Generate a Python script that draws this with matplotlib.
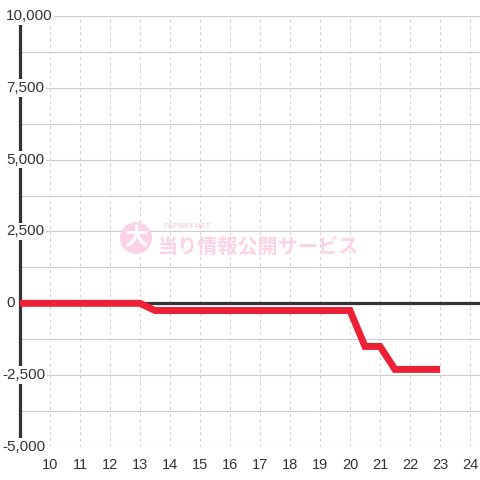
import matplotlib
matplotlib.use("Agg")
import matplotlib.pyplot as plt
from matplotlib.patches import Circle

# hourly balance data (x = hour of day, y = balance)
hours = [9, 10, 11, 12, 13, 13.5, 14, 15, 16, 17, 18, 19, 20, 20.5, 21, 21.5, 22, 22.5, 23]
balance = [0, 0, 0, 0, 0, -250, -250, -250, -250, -250, -250, -250, -250,
           -1500, -1500, -2300, -2300, -2300, -2300]
x_ticks = list(range(10, 25))
y_ticks = [10000, 7500, 5000, 2500, 0, -2500, -5000]
y_grid = [10000, 8750, 7500, 6250, 5000, 3750, 2500, 1250, 0, -1250, -2500, -3750, -5000]

plt.rcParams['font.family'] = ['Liberation Sans', 'DejaVu Sans']

fig = plt.figure(figsize=(4.8, 4.8), dpi=100)
fig.patch.set_facecolor('white')
ax = fig.add_axes([20 / 480, 33 / 480, 460 / 480, 431 / 480])
ax.set_xlim(9, 9 + 460 / 30)
ax.set_ylim(-5000, 10000)
for s in ax.spines.values():
    s.set_visible(False)

# grid
for g in y_grid:
    ax.axhline(g, color='#cccccc', lw=0.8, zorder=1)
ax.set_xticks(x_ticks)
ax.set_xticklabels([str(t) for t in x_ticks], fontsize=10.5, color='#333333')
ax.tick_params(axis='x', length=0, pad=8)
ax.set_yticks([])
ax.grid(axis='x', ls=(0, (2.5, 3.5)), lw=0.75, color='#cfcfcf', zorder=1)

# axis lines
ax.axvline(9, color='#333333', lw=2.3, zorder=2, clip_on=False)
ax.axhline(0, color='#333333', lw=2.3, zorder=2)

# watermark
fig.patches.append(Circle((136 / 480, 242 / 480), 16 / 480, transform=fig.transFigure,
                          facecolor='#fbd3e4', edgecolor='none', zorder=0.5))
fig.text(136 / 480, 242 / 480, '大', color='white', fontsize=17, fontweight='bold',
         family=['Noto Sans CJK JP'], ha='center', va='center', zorder=0.6)
fig.text(163 / 480, 253 / 480, 'PAPIMO-NET', color='#fbd3e4', fontsize=5.5,
         fontweight='bold', ha='left', va='center', zorder=0.6)
fig.text(158 / 480, 234 / 480, '当り情報公開サービス', color='#fbd3e4', fontsize=14.5,
         fontweight='bold', family=['Noto Sans CJK JP'], ha='left', va='center', zorder=0.6)

# data line
ax.plot(hours, balance, color='#ee2036', lw=5.0, solid_joinstyle='miter',
        solid_capstyle='butt', zorder=3, clip_on=False)

# y labels with white boxes
for v in y_ticks:
    xpos = 9 - 14 / 30 if v >= 0 else 9 - 18 / 30
    ax.text(xpos, v, f"{v:,}", fontsize=11, color='#333333',
            ha='left', va='center', zorder=4, clip_on=False,
            bbox=dict(facecolor='white', edgecolor='none', pad=1.2))

fig.savefig('out.png', dpi=100, facecolor='white')
